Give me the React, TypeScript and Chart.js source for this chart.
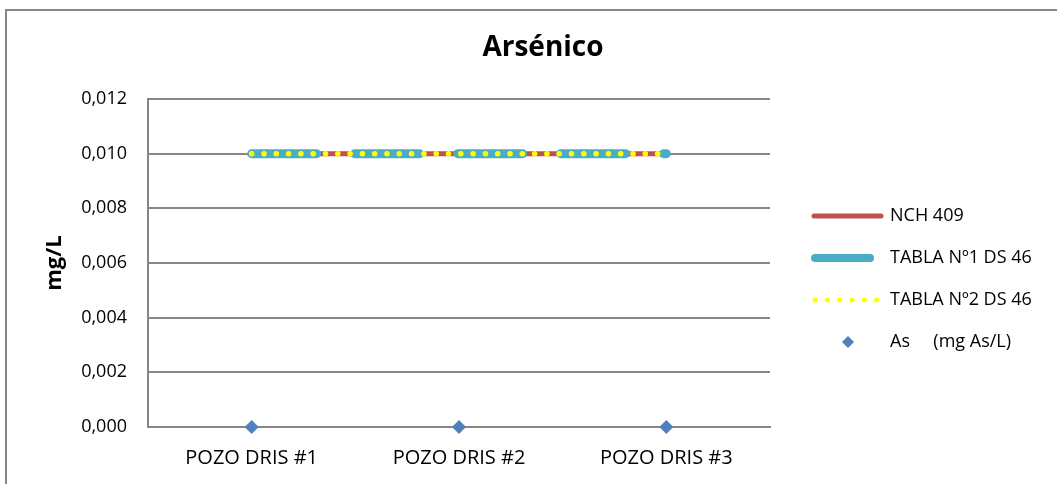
import React, { useEffect, useRef } from "react";
import { Chart, registerables } from "chart.js";

Chart.register(...registerables);

const categories = ["POZO DRIS #1", "POZO DRIS #2", "POZO DRIS #3"];
const nch409 = [0.01, 0.01, 0.01];
const tabla1 = [0.01, 0.01, 0.01];
const tabla2 = [0.01, 0.01, 0.01];
const arsenico = [0, 0, 0];
const seriesLabels = ["NCH 409", "TABLA Nº1 DS 46", "TABLA Nº2 DS 46", "As     (mg As/L)"];
const titleText = "Arsénico";
const yTitleText = "mg/L";

const FONT = "'Open Sans', sans-serif";
const GRID = "#868686";
const RED = "#C0504D";
const CYAN = "#4BACC6";
const YELLOW = "#FFFF00";
const BLUE = "#4F81BD";

const decorPlugin = {
  id: "decor",
  beforeDraw(chart: any) {
    const ctx = chart.ctx;
    ctx.save();
    ctx.fillStyle = "#ffffff";
    ctx.fillRect(0, 0, chart.width, chart.height);
    ctx.strokeStyle = GRID;
    ctx.lineWidth = 2;
    ctx.strokeRect(6, 10, 1200, 600);
    ctx.restore();
  },
  afterDraw(chart: any) {
    const ctx = chart.ctx;
    ctx.save();
    // title
    ctx.fillStyle = "#000000";
    ctx.font = `bold 28px ${FONT}`;
    ctx.textAlign = "center";
    ctx.textBaseline = "middle";
    ctx.fillText(titleText, 543, 48);
    // y title
    ctx.save();
    ctx.translate(55, 263);
    ctx.rotate(-Math.PI / 2);
    ctx.font = `bold 22px ${FONT}`;
    ctx.fillText(yTitleText, 0, 0);
    ctx.restore();
    // legend
    const rows = [216, 258, 300, 342];
    const ds = chart.data.datasets;
    ctx.font = `18px ${FONT}`;
    ctx.textAlign = "left";
    ctx.textBaseline = "middle";
    ds.forEach((d: any, i: number) => {
      const y = rows[i];
      ctx.save();
      if (i === 3) {
        ctx.fillStyle = d.pointBackgroundColor;
        ctx.beginPath();
        ctx.moveTo(848, y - 6);
        ctx.lineTo(854, y);
        ctx.lineTo(848, y + 6);
        ctx.lineTo(842, y);
        ctx.closePath();
        ctx.fill();
      } else {
        ctx.strokeStyle = d.borderColor;
        ctx.lineCap = "round";
        if (i === 0) {
          ctx.lineWidth = 5;
          ctx.beginPath();
          ctx.moveTo(814, y);
          ctx.lineTo(881, y);
          ctx.stroke();
        } else if (i === 1) {
          ctx.lineWidth = 8;
          ctx.beginPath();
          ctx.moveTo(815, y);
          ctx.lineTo(870, y);
          ctx.stroke();
        } else {
          ctx.lineWidth = 5;
          ctx.setLineDash([0.1, 12.2]);
          ctx.beginPath();
          ctx.moveTo(815, y);
          ctx.lineTo(880, y);
          ctx.stroke();
        }
      }
      ctx.restore();
      ctx.fillStyle = "#000000";
      ctx.fillText(d.label, 890, y);
    });
    ctx.restore();
  },
};

export default function App() {
  const ref = useRef<HTMLCanvasElement | null>(null);
  useEffect(() => {
    if (!ref.current) return;
    const chart = new Chart(ref.current, {
      type: "line",
      data: {
        labels: categories,
        datasets: [
          {
            label: seriesLabels[0],
            data: nch409,
            borderColor: RED,
            borderWidth: 5,
            pointRadius: 0,
            order: 4,
          },
          {
            label: seriesLabels[1],
            data: tabla1,
            borderColor: CYAN,
            borderWidth: 9,
            borderDash: [65, 38],
            borderCapStyle: "round",
            pointRadius: 0,
            order: 3,
          },
          {
            label: seriesLabels[2],
            data: tabla2,
            borderColor: YELLOW,
            borderWidth: 5.5,
            borderDash: [0.1, 12.2],
            borderCapStyle: "round",
            pointRadius: 0,
            order: 2,
          },
          {
            label: seriesLabels[3],
            data: arsenico,
            showLine: false,
            pointStyle: "rectRot",
            pointRadius: 7,
            pointBackgroundColor: BLUE,
            pointBorderColor: BLUE,
            pointBorderWidth: 0,
            borderColor: BLUE,
            clip: false,
            order: 1,
          },
        ],
      },
      options: {
        animation: false,
        responsive: false,
        devicePixelRatio: 1,
        layout: { padding: { left: 0, top: 99, right: 287, bottom: 0 } },
        plugins: {
          legend: { display: false },
          title: { display: false },
          tooltip: { enabled: false },
        },
        scales: {
          x: {
            type: "category",
            offset: true,
            grid: { display: false, drawTicks: false },
            border: { display: true, color: GRID, width: 2 },
            ticks: {
              color: "#000000",
              font: { family: FONT, size: 20 },
              padding: 19,
              maxRotation: 0,
            },
            afterFit: (scale: any) => {
              scale.height = 57;
            },
          },
          y: {
            min: 0,
            max: 0.012,
            grid: { display: true, color: GRID, lineWidth: 2, drawTicks: false },
            border: { display: true, color: GRID, width: 2 },
            ticks: {
              stepSize: 0.002,
              color: "#000000",
              font: { family: FONT, size: 18 },
              padding: 21,
              callback: (v: any) => Number(v).toFixed(3).replace(".", ","),
            },
            afterFit: (scale: any) => {
              scale.width = 148;
            },
          },
        },
      },
      plugins: [decorPlugin],
    } as any);
    return () => chart.destroy();
  }, []);
  return (
    <div style={{ position: "fixed", left: 0, top: 0, width: 1057, height: 484 }}>
      <canvas ref={ref} width={1057} height={484} style={{ display: "block" }} />
    </div>
  );
}
